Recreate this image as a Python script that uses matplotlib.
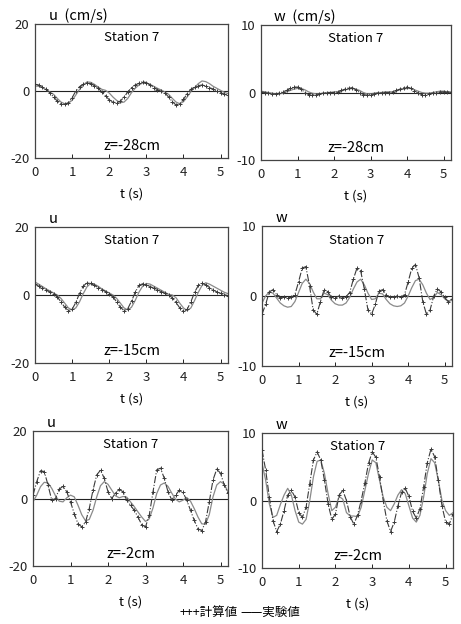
import matplotlib
matplotlib.use("Agg")
import matplotlib.pyplot as plt
import numpy as np

plt.rcParams["font.family"] = ["Noto Sans CJK JP", "DejaVu Sans"]
plt.rcParams["axes.unicode_minus"] = False

# time axis of the samples (s)
t = np.round(np.arange(0, 53) * 0.1, 1)

# ---- z = -28 cm ----
u28_calc = [2.0, 1.8, 1.2, 0.5, -0.5, -1.8, -3.0, -3.8, -4.0, -3.5, -2.0, 0.0, 1.3, 2.0, 2.4, 2.2,
            1.6, 0.8, -0.2, -1.5, -2.6, -3.3, -3.5, -3.0, -1.8, -0.3, 1.0, 1.8, 2.3, 2.8, 2.5, 1.8,
            1.0, 0.4, 0.0, -0.6, -1.8, -3.2, -4.2, -3.8, -2.5, -0.8, 0.5, 1.2, 1.6, 1.8, 1.5, 1.0,
            0.6, 0.0, -0.5, -1.0, -1.2]
u28_exp = [1.5, 1.4, 1.0, 0.4, -0.3, -1.0, -2.2, -3.3, -3.8, -3.6, -2.8, -1.2, 0.5, 1.8, 2.7, 2.6,
           2.0, 1.2, 0.5, 0.2, -0.6, -1.8, -2.8, -3.5, -3.3, -2.2, -0.5, 0.8, 1.8, 2.4, 2.4, 2.0,
           1.4, 0.8, 0.3, -0.3, -1.0, -2.2, -3.3, -3.8, -3.2, -1.8, -0.2, 1.0, 2.2, 3.0, 2.8, 2.2,
           1.4, 0.8, 0.2, -0.4, -0.8]
w28_calc = [0.1, 0.0, -0.1, -0.2, -0.2, -0.1, 0.1, 0.3, 0.6, 0.8, 0.8, 0.5, 0.0, -0.3, -0.4, -0.3,
            -0.2, -0.1, 0.0, 0.0, 0.0, 0.1, 0.3, 0.5, 0.7, 0.7, 0.4, 0.0, -0.3, -0.4, -0.3, -0.2,
            -0.1, 0.0, 0.0, 0.0, 0.1, 0.3, 0.5, 0.7, 0.8, 0.6, 0.2, -0.1, -0.3, -0.3, -0.2, -0.1,
            0.0, 0.1, 0.1, 0.1, 0.1]
w28_exp = [0.2, 0.1, 0.0, -0.1, -0.2, -0.2, -0.1, 0.1, 0.3, 0.5, 0.6, 0.6, 0.4, 0.1, -0.1, -0.2,
           -0.2, -0.1, 0.0, 0.0, 0.1, 0.1, 0.2, 0.4, 0.5, 0.6, 0.5, 0.3, 0.0, -0.2, -0.2, -0.1,
           0.0, 0.0, 0.1, 0.1, 0.1, 0.2, 0.4, 0.5, 0.6, 0.6, 0.4, 0.2, 0.0, -0.1, -0.1, 0.0,
           0.1, 0.2, 0.2, 0.1, 0.1]

# ---- z = -15 cm ----
u15_calc = [3.2, 2.6, 2.0, 1.4, 0.9, 0.3, -0.6, -2.0, -3.6, -4.6, -4.2, -2.2, 0.5, 2.6, 3.6, 3.4,
            2.8, 2.2, 1.6, 1.0, 0.3, -0.6, -2.0, -3.6, -4.6, -4.0, -1.8, 0.8, 2.8, 3.3, 3.0, 2.5,
            2.0, 1.5, 1.0, 0.5, 0.0, -0.8, -2.2, -3.8, -4.8, -4.2, -2.0, 0.8, 2.8, 3.4, 3.0, 2.2,
            1.5, 0.9, 0.5, 0.1, -0.2]
u15_exp = [3.8, 3.2, 2.5, 1.8, 1.2, 0.6, 0.0, -1.0, -2.4, -3.8, -4.4, -3.8, -2.0, 0.4, 2.4, 3.4,
           3.2, 2.6, 1.8, 1.2, 0.6, 0.0, -1.0, -2.4, -3.8, -4.4, -3.6, -1.6, 0.8, 2.6, 3.4, 3.2,
           2.6, 2.0, 1.4, 0.8, 0.2, 0.0, -0.8, -2.4, -3.8, -4.6, -3.8, -1.6, 0.8, 2.8, 3.6, 3.2,
           2.6, 2.0, 1.4, 0.8, 0.4]
w15_calc = [-2.6, -1.2, 0.6, 0.9, 0.2, -0.3, -0.1, -0.3, -0.2, 0.2, 2.0, 4.0, 4.2, 1.5, -2.0, -2.6,
            -0.8, 0.9, 0.6, -0.2, -0.3, 0.0, -0.3, -0.1, 0.5, 2.4, 4.0, 3.6, 1.0, -2.0, -2.6, -1.2,
            0.7, 0.9, 0.2, -0.2, -0.1, 0.0, -0.2, 0.2, 2.0, 4.0, 4.5, 2.6, -0.8, -2.6, -2.0, 0.0,
            1.0, 0.6, -0.2, -0.8, -0.4]
w15_exp = [-1.0, 0.0, 0.6, 0.4, -0.3, -1.0, -1.4, -1.6, -1.5, -0.8, 0.5, 1.8, 2.4, 1.8, 0.6, -0.4,
           -0.4, 0.4, 0.2, -0.6, -1.1, -1.3, -1.3, -1.0, -0.2, 1.0, 2.0, 2.4, 1.6, 0.4, -0.5, -0.4,
           0.4, 0.3, -0.5, -1.1, -1.4, -1.5, -1.4, -1.0, 0.0, 1.2, 2.2, 2.4, 1.6, 0.4, -0.5, -0.2,
           0.5, 0.2, -0.4, -0.8, -0.6]

# ---- z = -2 cm ----
u2_calc = [1.0, 5.0, 8.2, 8.0, 4.0, -0.5, 0.0, 2.8, 3.6, 2.0, -1.0, -4.5, -7.5, -8.4, -7.0, -3.0,
           2.5, 7.0, 8.4, 6.0, 2.0, 0.0, 1.6, 2.7, 2.0, -0.5, -2.0, -3.5, -5.5, -7.8, -8.4, -5.0,
           2.0, 8.5, 9.0, 6.0, 2.0, -0.4, 1.0, 2.4, 1.8, -0.5, -3.5, -6.5, -9.0, -9.5, -7.0, -1.0,
           5.5, 8.7, 7.5, 4.0, 1.5]
u2_exp = [-1.0, 1.0, 3.5, 4.8, 4.6, 3.0, 0.8, -0.8, -1.0, 0.2, 1.0, 0.5, -2.0, -4.8, -6.6, -6.2,
          -3.5, 0.5, 3.8, 5.0, 4.2, 2.5, 0.8, 0.2, 0.6, 0.4, -1.0, -2.4, -4.0, -5.5, -6.8, -6.0,
          -2.8, 1.5, 4.0, 4.6, 3.6, 1.6, -0.2, -1.0, -0.5, 0.3, -0.8, -3.0, -5.5, -7.5, -7.6, -4.8,
          0.5, 4.0, 5.0, 4.2, 2.0]
w2_calc = [7.5, 4.5, 0.5, -3.0, -4.6, -3.5, -1.5, 0.8, 1.5, 0.5, -1.8, -2.5, -1.0, 2.5, 6.0, 7.2,
           6.0, 3.0, -0.5, -2.8, -2.0, 0.8, 1.5, 0.0, -2.4, -3.5, -2.2, 0.0, 2.6, 5.5, 7.2, 6.4,
           3.5, 0.0, -3.0, -4.6, -3.2, -0.8, 1.2, 1.8, 0.6, -1.6, -2.6, -1.2, 2.0, 5.6, 7.6, 6.5,
           3.0, -0.8, -3.2, -3.5, -2.0]
w2_exp = [5.5, 3.0, -0.5, -2.5, -2.2, -0.6, 0.8, 1.8, 0.8, -1.5, -3.2, -3.5, -2.8, 0.0, 3.5, 5.8,
          6.0, 4.0, 1.0, -1.5, -1.0, 0.6, 0.2, -1.8, -2.3, -2.3, -2.4, -1.0, 1.5, 4.0, 6.0, 5.6,
          3.0, 0.5, -1.0, -1.5, -0.5, 0.8, 1.6, 1.0, -0.8, -2.6, -3.2, -2.2, 0.5, 4.0, 6.2, 5.6,
          3.0, 0.0, -1.5, -2.2, -1.8]

W, H = 461, 624
fig = plt.figure(figsize=(W / 100, H / 100), dpi=100)

# (left, top, right, bottom) in pixels, series, limits, labels
panels = [
    ((35, 24, 228, 158), u28_calc, u28_exp, 20, "u  (cm/s)", "z=-28cm"),
    ((261, 25, 451, 160), w28_calc, w28_exp, 10, "w  (cm/s)", "z=-28cm"),
    ((35, 227, 228, 363), u15_calc, u15_exp, 20, "u", "z=-15cm"),
    ((262, 226, 452, 366), w15_calc, w15_exp, 10, "w", "z=-15cm"),
    ((33, 431, 228, 566), u2_calc, u2_exp, 20, "u", "z=-2cm"),
    ((262, 433, 453, 568), w2_calc, w2_exp, 10, "w", "z=-2cm"),
]

for (l, tp, r, b), calc, exp, lim, ylab, ztxt in panels:
    ax = fig.add_axes([l / W, 1 - b / H, (r - l) / W, (b - tp) / H])
    ax.axhline(0, color="#222222", lw=0.8, zorder=1)
    ax.plot(t, exp, color="#8a8a8a", lw=0.9, zorder=2)
    ax.plot(t, calc, color="#3a3a3a", lw=0.8, ls="-.", marker="+", ms=3.5, mew=0.7, zorder=3)
    ax.set_xlim(0, 5.2)
    ax.set_ylim(-lim, lim)
    ax.set_xticks(range(6))
    ax.set_yticks([-lim, 0, lim])
    ax.set_yticklabels([f"-{lim}", "0", f"{lim}"])
    ax.tick_params(direction="in", length=3, width=0.7, labelsize=9.5, colors="#222222")
    ax.tick_params(axis="x", pad=6)
    ax.tick_params(axis="y", pad=4)
    for s in ax.spines.values():
        s.set_linewidth(0.9)
        s.set_color("#444444")
    ax.set_xlabel("t (s)", fontsize=9.5, labelpad=6)
    ax.text(0.5, 0.9, "Station 7", transform=ax.transAxes, ha="center", va="center", fontsize=9.5)
    ax.text(0.5, 0.09, ztxt, transform=ax.transAxes, ha="center", va="center", fontsize=10.5)
    ax.text(0.07, 1.01, ylab, transform=ax.transAxes, ha="left", va="bottom", fontsize=10.5)

fig.text(180 / W, 1 - 612 / H, "+++計算値", ha="left", va="center", fontsize=9)
fig.text(240 / W, 1 - 612 / H, "——実験値", ha="left", va="center", fontsize=9)

fig.savefig("out.png", dpi=100, facecolor="white")
